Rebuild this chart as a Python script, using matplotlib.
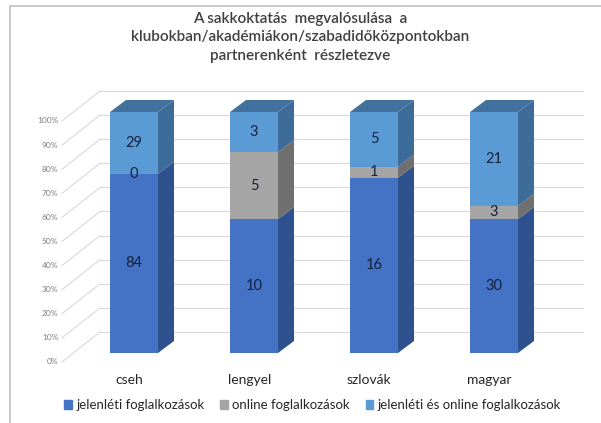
import numpy as np
import matplotlib
matplotlib.use('Agg')
import matplotlib.pyplot as plt
import matplotlib.patches as mpatches
from matplotlib.patches import Polygon, Rectangle

plt.rcParams['font.family'] = ['Lato', 'DejaVu Sans']

categories = ['cseh', 'lengyel', 'szlovák', 'magyar']
series_names = ['jelenléti foglalkozások', 'online foglalkozások',
                'jelenléti és online foglalkozások']
jelenleti = [84, 10, 16, 30]
online = [0, 5, 1, 3]
mindketto = [29, 3, 5, 21]
ticks = [0, 10, 20, 30, 40, 50, 60, 70, 80, 90, 100]

front_cols = ['#4472C4', '#A5A5A5', '#5B9BD5']
side_cols = ['#2F528F', '#6F6F6F', '#3E6C9A']
top_col = '#41719C'
grid_col = '#D9D9D9'

W, H = 601, 423
fig = plt.figure(figsize=(W / 100, H / 100), dpi=100)

# axes = front plane of the bars (pixel mapping worked out from the reference)
px_per_cat = 120.0
px_per_pct = 2.41
x0_px, y0_px = 134, 353
xl = ((30 - x0_px) / px_per_cat, (590 - x0_px) / px_per_cat)
yl = (-20, 112)
bot_px = y0_px - yl[0] * px_per_pct
top_px = y0_px - yl[1] * px_per_pct
ax = fig.add_axes([30 / W, 1 - bot_px / H, 560 / W, (bot_px - top_px) / H])
ax.set_xlim(*xl)
ax.set_ylim(*yl)
ax.axis('off')

# depth offsets (data units)
bdx, bdy = 16 / px_per_cat, 12 / px_per_pct
fx, fy = (62 - x0_px) / px_per_cat, -9 / px_per_pct
bx, by = (100 - x0_px) / px_per_cat, 21 / px_per_pct
bx_end = (583 - x0_px) / px_per_cat

# walls / gridlines
for t in ticks:
    ax.plot([fx, bx], [t + fy, t + by], color=grid_col, lw=0.8, zorder=0)
    ax.plot([bx, bx_end], [t + by, t + by], color=grid_col, lw=0.8, zorder=0)
    ax.text(fx - 0.03, t + fy, '%d%%' % t, ha='right', va='center',
            fontsize=6, color='#7F7F7F')

data = np.array([jelenleti, online, mindketto], dtype=float)
totals = data.sum(axis=0)
pct = data / totals * 100
x = np.arange(len(categories))
width = 0.4

for i in range(len(categories)):
    bottom = 0
    for k in range(3):
        h = pct[k, i]
        xr = x[i] + width / 2
        side = Polygon([(xr, bottom), (xr, bottom + h), (xr + bdx, bottom + h + bdy),
                        (xr + bdx, bottom + bdy)], closed=True, facecolor=side_cols[k],
                       edgecolor='none', zorder=2)
        ax.add_patch(side)
        ax.bar(x[i], h, bottom=bottom, width=width, color=front_cols[k], zorder=3)
        ax.text(x[i], bottom + h / 2, '%d' % data[k, i], ha='center', va='center',
                fontsize=10.5, color='#14213D', zorder=4)
        bottom += h
    xl_ = x[i] - width / 2
    xr = x[i] + width / 2
    top = Polygon([(xl_, 100), (xr, 100), (xr + bdx, 100 + bdy), (xl_ + bdx, 100 + bdy)],
                  closed=True, facecolor=top_col, edgecolor='none', zorder=2)
    ax.add_patch(top)
    ax.text(x[i] - 0.04, -11.2, categories[i], ha='center', va='center',
            fontsize=10, color='#262626')

fig.text(0.5, 1 - 12 / H,
         'A sakkoktatás  megvalósulása  a\nklubokban/akadémiákon/szabadidőközpontokban\npartnerenként  részletezve',
         ha='center', va='top', fontsize=11, fontweight='semibold', color='#404040',
         linespacing=1.4)

handles = [mpatches.Patch(color=c) for c in front_cols]
fig.legend(handles=handles, labels=series_names, loc='lower center',
           bbox_to_anchor=(0.52, 0.0), ncol=3, frameon=False, fontsize=9.5,
           handlelength=0.6, handleheight=0.6, handletextpad=0.3, columnspacing=1.2,
           labelcolor='#262626')

fig.patches.append(Rectangle((10 / W, -0.1), 1.2, 1.1 - 6 / H, transform=fig.transFigure,
                             fill=False, edgecolor='#BFBFBF', lw=1.2))

fig.savefig('out.png', dpi=100)
